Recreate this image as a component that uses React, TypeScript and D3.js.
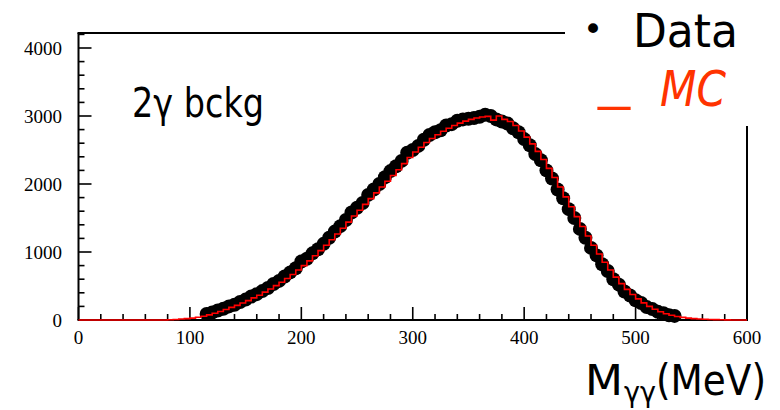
import React from "react";
import * as d3 from "d3";

const dataMass = [
  115, 120, 125, 130, 135, 140, 145, 150, 155, 160, 165, 170, 175, 180, 185, 190, 195, 200,
  205, 210, 215, 220, 225, 230, 235, 240, 245, 250, 255, 260, 265, 270, 275, 280, 285, 290,
  295, 300, 305, 310, 315, 320, 325, 330, 335, 340, 345, 350, 355, 360, 365, 370, 375, 380,
  385, 390, 395, 400, 405, 410, 415, 420, 425, 430, 435, 440, 445, 450, 455, 460, 465, 470,
  475, 480, 485, 490, 495, 500, 505, 510, 515, 520, 525, 530, 535,
];
const dataCounts = [
  90, 110, 140, 165, 200, 225, 265, 300, 345, 380, 425, 470, 530, 575, 640, 700, 760, 860,
  900, 980, 1040, 1120, 1210, 1300, 1380, 1470, 1580, 1650, 1720, 1840, 1920, 2000, 2100, 2190, 2260, 2340,
  2460, 2500, 2560, 2650, 2720, 2760, 2790, 2860, 2880, 2930, 2950, 2960, 2970, 2990, 3020, 3000, 2950, 2920,
  2890, 2820, 2760, 2660, 2570, 2440, 2350, 2200, 2080, 1920, 1790, 1630, 1500, 1340, 1210, 1060, 950, 820,
  720, 600, 520, 420, 360, 290, 250, 190, 160, 120, 100, 70, 60,
];

const mcStart = 80;
const mcBinWidth = 5;
const mcCounts = [
  3, 8, 14, 20, 28, 40, 55, 75, 100, 125, 155, 185, 215, 250, 285, 325, 365, 410, 455, 505,
  555, 610, 670, 735, 800, 870, 945, 1020, 1100, 1180, 1265, 1350, 1440, 1530, 1615, 1700, 1785, 1870, 1955, 2040,
  2125, 2210, 2300, 2390, 2470, 2540, 2610, 2670, 2725, 2775, 2820, 2860, 2895, 2925, 2950, 2970, 2985, 2995, 2940, 3000,
  2950, 2920, 2860, 2780, 2690, 2590, 2480, 2360, 2230, 2095, 1955, 1810, 1665, 1520, 1375, 1235, 1100, 970, 850, 735,
  630, 535, 450, 375, 310, 252, 200, 158, 122, 93, 70, 52, 38, 28, 20, 14, 10, 7, 5, 3,
  2, 1, 0, 0,
];

const xMajorTicks = [0, 100, 200, 300, 400, 500, 600];
const yMajorTicks = [0, 1000, 2000, 3000, 4000];

export default function App() {
  const W = 780;
  const H = 410;
  const x = d3.scaleLinear().domain([0, 600]).range([78.5, 747]);
  const y = d3.scaleLinear().domain([0, 4000]).range([320, 48]);
  const yTop = y(4220);

  const xMinor = d3.range(0, 601, 20).filter((v) => v % 100 !== 0);
  const yMinor = d3.range(0, 4201, 200).filter((v) => v % 1000 !== 0);

  const mcPts: [number, number][] = [[0, 0], [mcStart, 0]];
  mcCounts.forEach((c, i) => {
    const lo = mcStart + i * mcBinWidth;
    mcPts.push([lo, c]);
    mcPts.push([lo + mcBinWidth, c]);
  });
  mcPts.push([600, 0]);
  const mcLine = d3
    .line<[number, number]>()
    .x((d) => x(d[0]))
    .y((d) => y(d[1]))(mcPts);

  const serif = "'Liberation Serif', 'Times New Roman', serif";
  const sans = "'DejaVu Sans', 'Noto Sans', sans-serif";
  const cond = "'DejaVu Sans Condensed', 'DejaVu Sans', sans-serif";

  return (
    <svg
      width={W}
      height={H}
      style={{ position: "absolute", left: 0, top: 0, background: "#fff" }}
    >
      <rect x={0} y={0} width={W} height={H} fill="#fff" />
      {/* frame */}
      <g stroke="#000" strokeWidth={2} fill="none">
        <line x1={x(0)} x2={x(0)} y1={yTop} y2={y(0)} />
        <line x1={x(0) - 1} x2={x(600) + 1} y1={y(0)} y2={y(0)} />
        <line x1={x(0) - 1} x2={x(600)} y1={yTop} y2={yTop} />
        <line x1={x(600)} x2={x(600)} y1={yTop} y2={y(0)} />
      </g>
      {/* ticks */}
      <g stroke="#000" strokeWidth={1.6}>
        {yMajorTicks.map((v) => (
          <line key={"ym" + v} x1={x(0)} x2={x(0) + 13} y1={y(v)} y2={y(v)} />
        ))}
        {yMinor.map((v) => (
          <line key={"yn" + v} x1={x(0)} x2={x(0) + 6} y1={y(v)} y2={y(v)} />
        ))}
        {xMajorTicks.map((v) => (
          <line key={"xm" + v} x1={x(v)} x2={x(v)} y1={y(0)} y2={y(0) - 13} />
        ))}
        {xMinor.map((v) => (
          <line key={"xn" + v} x1={x(v)} x2={x(v)} y1={y(0)} y2={y(0) - 6} />
        ))}
      </g>
      {/* tick labels */}
      <g fontFamily={serif} fontSize={19} fill="#000">
        {yMajorTicks.map((v) => (
          <text key={"yl" + v} x={62} y={y(v)} dy="0.35em" textAnchor="end">
            {v}
          </text>
        ))}
        {xMajorTicks.map((v) => (
          <text key={"xl" + v} x={x(v)} y={344} textAnchor="middle">
            {v}
          </text>
        ))}
      </g>
      {/* data points */}
      <g fill="#000">
        {dataMass.map((m, i) => (
          <circle key={"p" + i} cx={x(m)} cy={y(dataCounts[i])} r={7} />
        ))}
      </g>
      {/* MC histogram */}
      <path d={mcLine || ""} fill="none" stroke="#ff0000" strokeWidth={1.6} />

      {/* annotation */}
      <text
        x={132}
        y={117}
        fontFamily={sans}
        fontSize={41}
        textLength={132}
        lengthAdjust="spacingAndGlyphs"
        fill="#000"
      >
        2γ bckg
      </text>

      {/* legend box */}
      <rect x={565} y={0} width={215} height={126} fill="#fff" />
      <text x={593} y={41} fontFamily={sans} fontSize={34} textAnchor="middle" fill="#000">
        •
      </text>
      <text
        x={633}
        y={47}
        fontFamily={sans}
        fontSize={46}
        textLength={105}
        lengthAdjust="spacingAndGlyphs"
        fill="#000"
      >
        Data
      </text>
      <text
        x={598}
        y={99}
        fontFamily={sans}
        fontSize={46}
        textLength={32}
        lengthAdjust="spacingAndGlyphs"
        fill="#ff3300"
      >
        _
      </text>
      <text
        x={660}
        y={106}
        fontFamily={sans}
        fontSize={50}
        fontStyle="italic"
        textLength={66}
        lengthAdjust="spacingAndGlyphs"
        fill="#ff3300"
      >
        MC
      </text>

      {/* x axis title */}
      <text x={585} y={395} fontFamily={cond} fontSize={43} textLength={38} lengthAdjust="spacingAndGlyphs" fill="#000">
        M
      </text>
      <text x={624} y={402} fontFamily={cond} fontSize={28} textLength={32} lengthAdjust="spacingAndGlyphs" fill="#000">
        γγ
      </text>
      <text x={656} y={395} fontFamily={cond} fontSize={43} textLength={110} lengthAdjust="spacingAndGlyphs" fill="#000">
        (MeV)
      </text>
    </svg>
  );
}
